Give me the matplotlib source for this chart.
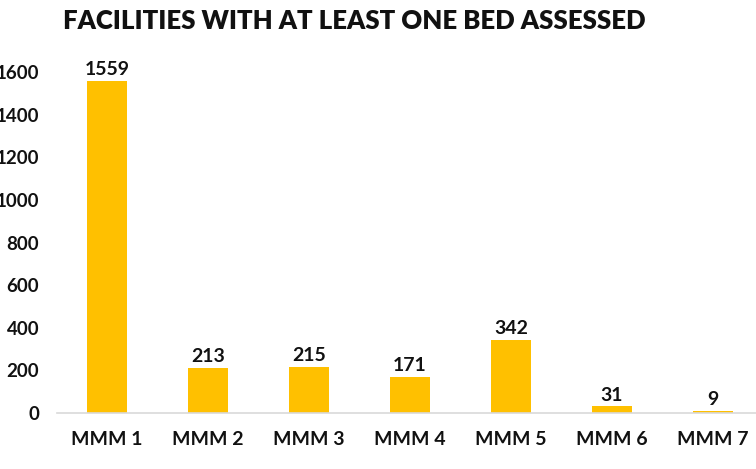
import matplotlib
matplotlib.use("Agg")
import matplotlib.pyplot as plt

categories = ["MMM 1", "MMM 2", "MMM 3", "MMM 4", "MMM 5", "MMM 6", "MMM 7"]
values = [1559, 213, 215, 171, 342, 31, 9]
yticks = [0, 200, 400, 600, 800, 1000, 1200, 1400, 1600]
title = "FACILITIES WITH AT LEAST ONE BED ASSESSED"

plt.rcParams['font.family'] = ['Lato', 'DejaVu Sans']
fig = plt.figure(figsize=(7.56, 4.69), dpi=100)
ax = fig.add_axes([56.5/756, 1-413/469, 707/756, (413-72)/469])

x = list(range(len(categories)))
bars = ax.bar(x, values, width=0.4, color="#FFC000")
for xi, v in zip(x, values):
    ax.annotate(str(v), (xi, v), xytext=(0, 2), textcoords="offset points",
                ha="center", va="bottom", fontsize=14, fontweight="bold", color="#111111")

ax.set_xlim(-0.5, len(categories) - 0.5)
ax.set_ylim(0, 1600)
ax.set_yticks(yticks)
ax.set_yticklabels([str(t) for t in yticks], fontsize=13.5, fontweight="bold", color="#111111")
ax.set_xticks(x)
ax.set_xticklabels(categories, fontsize=14, fontweight="bold", color="#111111")
ax.tick_params(axis="both", length=0)
ax.tick_params(axis="y", pad=12.5)
ax.tick_params(axis="x", pad=13)
for s in ["top", "right", "left"]:
    ax.spines[s].set_visible(False)
ax.spines["bottom"].set_color("#D9D9D9")
ax.spines["bottom"].set_linewidth(1.2)

fig.text(63/756, 1-21/469, title, ha="left", va="center", fontsize=18.5,
         fontweight="heavy", color="#111111")

fig.savefig("out.png", dpi=100)
